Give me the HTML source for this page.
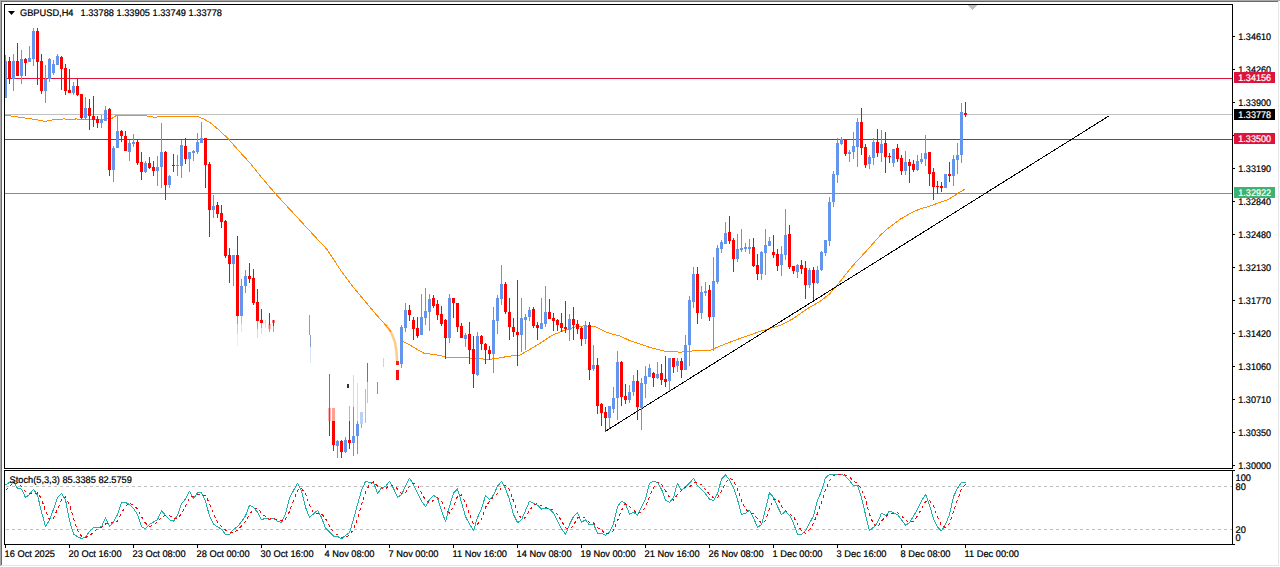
<!DOCTYPE html><html><head><meta charset="utf-8"><title>GBPUSD,H4</title>
<style>html,body{margin:0;padding:0;background:#fff;}body{width:1280px;height:567px;overflow:hidden;}svg{display:block;position:absolute;left:0;top:0;}text{font-family:"Liberation Sans",sans-serif;font-size:9.25px;fill:#000;stroke:#000;stroke-width:0.22px;text-rendering:geometricPrecision;}.w{fill:#fff;stroke:#fff;}</style></head><body>
<svg width="1280" height="567" viewBox="0 0 1280 567">
<rect x="0" y="0" width="1280" height="567" fill="#fff"/>
<g shape-rendering="crispEdges">
<rect x="0" y="0" width="1280" height="1" fill="#a9a9a9"/>
<rect x="0" y="1" width="1279" height="1" fill="#696969"/>
<rect x="0" y="0" width="1" height="566" fill="#a9a9a9"/>
<rect x="1" y="1" width="1" height="565" fill="#696969"/>
<rect x="1278" y="1" width="1" height="565" fill="#e6e6e6"/>
<rect x="1" y="565" width="1278" height="1" fill="#e6e6e6"/>
<rect x="1233" y="36" width="2" height="1" fill="#000"/>
<rect x="1233" y="69" width="2" height="1" fill="#000"/>
<rect x="1233" y="102" width="2" height="1" fill="#000"/>
<rect x="1233" y="135" width="2" height="1" fill="#000"/>
<rect x="1233" y="168" width="2" height="1" fill="#000"/>
<rect x="1233" y="201" width="2" height="1" fill="#000"/>
<rect x="1233" y="234" width="2" height="1" fill="#000"/>
<rect x="1233" y="267" width="2" height="1" fill="#000"/>
<rect x="1233" y="300" width="2" height="1" fill="#000"/>
<rect x="1233" y="333" width="2" height="1" fill="#000"/>
<rect x="1233" y="366" width="2" height="1" fill="#000"/>
<rect x="1233" y="399" width="2" height="1" fill="#000"/>
<rect x="1233" y="432" width="2" height="1" fill="#000"/>
<rect x="1233" y="465" width="2" height="1" fill="#000"/>
<rect x="5" y="545" width="1" height="3" fill="#000"/>
<rect x="69" y="545" width="1" height="3" fill="#000"/>
<rect x="133" y="545" width="1" height="3" fill="#000"/>
<rect x="197" y="545" width="1" height="3" fill="#000"/>
<rect x="261" y="545" width="1" height="3" fill="#000"/>
<rect x="325" y="545" width="1" height="3" fill="#000"/>
<rect x="389" y="545" width="1" height="3" fill="#000"/>
<rect x="453" y="545" width="1" height="3" fill="#000"/>
<rect x="517" y="545" width="1" height="3" fill="#000"/>
<rect x="581" y="545" width="1" height="3" fill="#000"/>
<rect x="645" y="545" width="1" height="3" fill="#000"/>
<rect x="709" y="545" width="1" height="3" fill="#000"/>
<rect x="773" y="545" width="1" height="3" fill="#000"/>
<rect x="837" y="545" width="1" height="3" fill="#000"/>
<rect x="901" y="545" width="1" height="3" fill="#000"/>
<rect x="965" y="545" width="1" height="3" fill="#000"/>
<rect x="1233" y="470" width="2" height="1" fill="#000"/>
<rect x="1233" y="544" width="2" height="1" fill="#000"/>
<rect x="5" y="114" width="1227" height="1" fill="#c0c0c0"/>
<rect x="5" y="78" width="1227" height="1" fill="#dc143c"/>
<rect x="5" y="139" width="1227" height="1" fill="#dc143c"/>
<rect x="5" y="193" width="1227" height="1" fill="#3cb371"/>
</g>
<line x1="6" y1="486.5" x2="1232" y2="486.5" stroke="#c0c0c0" stroke-width="1" stroke-dasharray="3 3" shape-rendering="crispEdges"/>
<line x1="6" y1="529.5" x2="1232" y2="529.5" stroke="#c0c0c0" stroke-width="1" stroke-dasharray="3 3" shape-rendering="crispEdges"/>
<polyline fill="none" stroke="#ff8c00" stroke-width="1" stroke-linejoin="round" shape-rendering="crispEdges" points="4,114.8 16,116.8 28,118.4 40,120.4 45,121.4 52,120 64,118.9 72,119.8 76,118.9 84,119.8 100,119.5 112,118.4 116,115.6 120,115 140,115 155,117.3 162,116 196,116 204,119 212,124 220,131 228,138.5 238.2,150.2 250.3,163.3 262.3,178.3 274.5,192.6 304.5,225.3 327.1,249.5 333,258.5 339.4,268.5 351.8,285.3 364.1,300.1 376.5,315 384,323.2 391,331.5"/>
<polyline fill="none" stroke="#ff8c00" stroke-width="1" stroke-linejoin="round" shape-rendering="crispEdges" points="403,341.3 412,346.3 424,353.3 436,354.7 448,357.4 470,358 488.5,359.4 496.5,358.4 508,356.4 520,355 528,350.4 540,343.4 552,335.3 564.3,330.3 576.4,326.7 584.4,325.9 594.5,326.3 604.5,331.3 612.5,334.3 620,336 630,340.7 640,344 650,347.5 664.4,351.1 680.5,352.2 692.5,351 711,350 720,346 740.3,338.3 760.4,331.3 770.4,328.3 780.5,325.3 792.5,319 808,308.3 820,301.5 830,293.5 840.2,281.4 852.2,266.3 864.3,253.3 880.4,235.2 886.4,229.6 900.5,219.1 912.5,212.1 920.5,208.7 928,206.7 948.2,199.5 965,189"/>
<polyline fill="none" stroke="#ff8c00" stroke-width="2.5" opacity="0.45" stroke-linecap="round" points="386,325 391,332 395,342 396.5,352 397,360"/>
<line x1="605.5" y1="431.2" x2="1109.3" y2="115.7" stroke="#000" stroke-width="1" shape-rendering="crispEdges"/>
<g shape-rendering="crispEdges">
<rect x="5" y="55" width="1" height="43" fill="#6495ed"/>
<rect x="4" y="61" width="3" height="37" fill="#6495ed"/>
<rect x="9" y="57" width="1" height="27" fill="#ff0000"/>
<rect x="8" y="61" width="3" height="18" fill="#ff0000"/>
<rect x="13" y="54" width="1" height="37" fill="#6495ed"/>
<rect x="12" y="61" width="3" height="18" fill="#6495ed"/>
<rect x="17" y="43" width="1" height="33" fill="#ff0000"/>
<rect x="16" y="61" width="3" height="15" fill="#ff0000"/>
<rect x="21" y="50" width="1" height="34" fill="#6495ed"/>
<rect x="20" y="59" width="3" height="17" fill="#6495ed"/>
<rect x="25" y="58" width="1" height="18" fill="#ff0000"/>
<rect x="24" y="59" width="3" height="4" fill="#ff0000"/>
<rect x="29" y="46" width="1" height="16" fill="#6495ed"/>
<rect x="28" y="58" width="3" height="4" fill="#6495ed"/>
<rect x="33" y="28" width="1" height="38" fill="#6495ed"/>
<rect x="32" y="31" width="3" height="28" fill="#6495ed"/>
<rect x="37" y="28" width="1" height="57" fill="#ff0000"/>
<rect x="36" y="31" width="3" height="31" fill="#ff0000"/>
<rect x="41" y="54" width="1" height="40" fill="#ff0000"/>
<rect x="40" y="61" width="3" height="30" fill="#ff0000"/>
<rect x="45" y="65" width="1" height="38" fill="#6495ed"/>
<rect x="44" y="79" width="3" height="12" fill="#6495ed"/>
<rect x="49" y="58" width="1" height="24" fill="#6495ed"/>
<rect x="48" y="59" width="3" height="20" fill="#6495ed"/>
<rect x="53" y="60" width="1" height="15" fill="#6495ed"/>
<rect x="52" y="64" width="3" height="9" fill="#6495ed"/>
<rect x="57" y="54" width="1" height="11" fill="#6495ed"/>
<rect x="56" y="56" width="3" height="9" fill="#6495ed"/>
<rect x="61" y="56" width="1" height="34" fill="#ff0000"/>
<rect x="60" y="57" width="3" height="12" fill="#ff0000"/>
<rect x="65" y="64" width="1" height="31" fill="#ff0000"/>
<rect x="64" y="68" width="3" height="23" fill="#ff0000"/>
<rect x="69" y="69" width="1" height="24" fill="#ff0000"/>
<rect x="68" y="90" width="3" height="3" fill="#ff0000"/>
<rect x="73" y="82" width="1" height="13" fill="#6495ed"/>
<rect x="72" y="86" width="3" height="7" fill="#6495ed"/>
<rect x="77" y="79" width="1" height="17" fill="#ff0000"/>
<rect x="76" y="86" width="3" height="9" fill="#ff0000"/>
<rect x="81" y="94" width="1" height="25" fill="#ff0000"/>
<rect x="80" y="94" width="3" height="24" fill="#ff0000"/>
<rect x="85" y="97" width="1" height="23" fill="#6495ed"/>
<rect x="84" y="108" width="3" height="10" fill="#6495ed"/>
<rect x="89" y="99" width="1" height="31" fill="#ff0000"/>
<rect x="88" y="108" width="3" height="8" fill="#ff0000"/>
<rect x="93" y="96" width="1" height="31" fill="#ff0000"/>
<rect x="92" y="116" width="3" height="4" fill="#ff0000"/>
<rect x="97" y="116" width="1" height="12" fill="#ff0000"/>
<rect x="96" y="119" width="3" height="4" fill="#ff0000"/>
<rect x="101" y="115" width="1" height="13" fill="#6495ed"/>
<rect x="100" y="120" width="3" height="3" fill="#6495ed"/>
<rect x="105" y="106" width="1" height="15" fill="#6495ed"/>
<rect x="104" y="110" width="3" height="11" fill="#6495ed"/>
<rect x="109" y="108" width="1" height="68" fill="#ff0000"/>
<rect x="108" y="109" width="3" height="61" fill="#ff0000"/>
<rect x="113" y="146" width="1" height="36" fill="#6495ed"/>
<rect x="112" y="148" width="3" height="22" fill="#6495ed"/>
<rect x="117" y="116" width="1" height="32" fill="#6495ed"/>
<rect x="116" y="131" width="3" height="17" fill="#6495ed"/>
<rect x="121" y="130" width="1" height="12" fill="#ff0000"/>
<rect x="120" y="131" width="3" height="5" fill="#ff0000"/>
<rect x="125" y="131" width="1" height="20" fill="#ff0000"/>
<rect x="124" y="136" width="3" height="15" fill="#ff0000"/>
<rect x="129" y="140" width="1" height="21" fill="#6495ed"/>
<rect x="128" y="143" width="3" height="9" fill="#6495ed"/>
<rect x="133" y="134" width="1" height="13" fill="#6495ed"/>
<rect x="132" y="142" width="3" height="2" fill="#6495ed"/>
<rect x="137" y="140" width="1" height="25" fill="#ff0000"/>
<rect x="136" y="142" width="3" height="21" fill="#ff0000"/>
<rect x="141" y="152" width="1" height="28" fill="#ff0000"/>
<rect x="140" y="162" width="3" height="10" fill="#ff0000"/>
<rect x="145" y="161" width="1" height="12" fill="#6495ed"/>
<rect x="144" y="163" width="3" height="9" fill="#6495ed"/>
<rect x="149" y="157" width="1" height="12" fill="#ff0000"/>
<rect x="148" y="163" width="3" height="5" fill="#ff0000"/>
<rect x="153" y="161" width="1" height="15" fill="#ff0000"/>
<rect x="152" y="167" width="3" height="4" fill="#ff0000"/>
<rect x="157" y="156" width="1" height="30" fill="#6495ed"/>
<rect x="156" y="167" width="3" height="4" fill="#6495ed"/>
<rect x="161" y="123" width="1" height="65" fill="#6495ed"/>
<rect x="160" y="152" width="3" height="15" fill="#6495ed"/>
<rect x="165" y="151" width="1" height="49" fill="#ff0000"/>
<rect x="164" y="152" width="3" height="33" fill="#ff0000"/>
<rect x="169" y="175" width="1" height="13" fill="#6495ed"/>
<rect x="168" y="176" width="3" height="9" fill="#6495ed"/>
<rect x="173" y="154" width="1" height="18" fill="#ff0000"/>
<rect x="172" y="165" width="3" height="1" fill="#ff0000"/>
<rect x="177" y="155" width="1" height="21" fill="#6495ed"/>
<rect x="176" y="165" width="3" height="1" fill="#6495ed"/>
<rect x="181" y="140" width="1" height="38" fill="#6495ed"/>
<rect x="180" y="145" width="3" height="21" fill="#6495ed"/>
<rect x="185" y="138" width="1" height="26" fill="#ff0000"/>
<rect x="184" y="146" width="3" height="13" fill="#ff0000"/>
<rect x="189" y="152" width="1" height="20" fill="#6495ed"/>
<rect x="188" y="152" width="3" height="7" fill="#6495ed"/>
<rect x="193" y="150" width="1" height="11" fill="#6495ed"/>
<rect x="192" y="151" width="3" height="2" fill="#6495ed"/>
<rect x="197" y="133" width="1" height="21" fill="#6495ed"/>
<rect x="196" y="142" width="3" height="10" fill="#6495ed"/>
<rect x="201" y="122" width="1" height="21" fill="#6495ed"/>
<rect x="200" y="138" width="3" height="5" fill="#6495ed"/>
<rect x="205" y="138" width="1" height="50" fill="#ff0000"/>
<rect x="204" y="138" width="3" height="27" fill="#ff0000"/>
<rect x="209" y="162" width="1" height="75" fill="#ff0000"/>
<rect x="208" y="164" width="3" height="46" fill="#ff0000"/>
<rect x="213" y="195" width="1" height="23" fill="#6495ed"/>
<rect x="212" y="206" width="3" height="4" fill="#6495ed"/>
<rect x="217" y="202" width="1" height="16" fill="#ff0000"/>
<rect x="216" y="205" width="3" height="9" fill="#ff0000"/>
<rect x="221" y="205" width="1" height="23" fill="#ff0000"/>
<rect x="220" y="213" width="3" height="9" fill="#ff0000"/>
<rect x="225" y="220" width="1" height="38" fill="#ff0000"/>
<rect x="224" y="221" width="3" height="35" fill="#ff0000"/>
<rect x="229" y="248" width="1" height="35" fill="#ff0000"/>
<rect x="228" y="255" width="3" height="9" fill="#ff0000"/>
<rect x="233" y="255" width="1" height="31" fill="#6495ed"/>
<rect x="232" y="255" width="3" height="9" fill="#6495ed"/>
<rect x="237" y="236" width="1" height="80" fill="#ff0000"/>
<rect x="236" y="255" width="3" height="61" fill="#ff0000"/>
<rect x="241" y="279" width="1" height="37" fill="#6495ed"/>
<rect x="240" y="286" width="3" height="30" fill="#6495ed"/>
<rect x="245" y="270" width="1" height="23" fill="#6495ed"/>
<rect x="244" y="276" width="3" height="10" fill="#6495ed"/>
<rect x="249" y="263" width="1" height="20" fill="#ff0000"/>
<rect x="248" y="276" width="3" height="3" fill="#ff0000"/>
<rect x="253" y="269" width="1" height="36" fill="#ff0000"/>
<rect x="252" y="278" width="3" height="25" fill="#ff0000"/>
<rect x="257" y="289" width="1" height="32" fill="#ff0000"/>
<rect x="256" y="302" width="3" height="19" fill="#ff0000"/>
<rect x="261" y="309" width="1" height="14" fill="#ff0000"/>
<rect x="260" y="320" width="3" height="3" fill="#ff0000"/>
<rect x="333" y="421" width="1" height="30" fill="#ff0000"/>
<rect x="332" y="421" width="3" height="24" fill="#ff0000"/>
<rect x="337" y="440" width="1" height="18" fill="#6495ed"/>
<rect x="336" y="441" width="3" height="5" fill="#6495ed"/>
<rect x="341" y="440" width="1" height="18" fill="#ff0000"/>
<rect x="340" y="441" width="3" height="11" fill="#ff0000"/>
<rect x="345" y="437" width="1" height="16" fill="#6495ed"/>
<rect x="344" y="440" width="3" height="12" fill="#6495ed"/>
<rect x="349" y="421" width="1" height="28" fill="#ff0000"/>
<rect x="348" y="440" width="3" height="3" fill="#ff0000"/>
<rect x="353" y="407" width="1" height="49" fill="#6495ed"/>
<rect x="352" y="436" width="3" height="7" fill="#6495ed"/>
<rect x="357" y="421" width="1" height="33" fill="#6495ed"/>
<rect x="356" y="424" width="3" height="12" fill="#6495ed"/>
<rect x="401" y="325" width="1" height="43" fill="#6495ed"/>
<rect x="400" y="327" width="3" height="37" fill="#6495ed"/>
<rect x="405" y="303" width="1" height="29" fill="#6495ed"/>
<rect x="404" y="310" width="3" height="18" fill="#6495ed"/>
<rect x="409" y="305" width="1" height="16" fill="#ff0000"/>
<rect x="408" y="310" width="3" height="5" fill="#ff0000"/>
<rect x="413" y="317" width="1" height="23" fill="#ff0000"/>
<rect x="412" y="320" width="3" height="9" fill="#ff0000"/>
<rect x="417" y="317" width="1" height="21" fill="#ff0000"/>
<rect x="416" y="328" width="3" height="8" fill="#ff0000"/>
<rect x="421" y="294" width="1" height="41" fill="#6495ed"/>
<rect x="420" y="317" width="3" height="18" fill="#6495ed"/>
<rect x="425" y="288" width="1" height="37" fill="#6495ed"/>
<rect x="424" y="311" width="3" height="7" fill="#6495ed"/>
<rect x="429" y="294" width="1" height="37" fill="#6495ed"/>
<rect x="428" y="299" width="3" height="13" fill="#6495ed"/>
<rect x="433" y="295" width="1" height="13" fill="#ff0000"/>
<rect x="432" y="298" width="3" height="8" fill="#ff0000"/>
<rect x="437" y="300" width="1" height="20" fill="#ff0000"/>
<rect x="436" y="304" width="3" height="11" fill="#ff0000"/>
<rect x="441" y="306" width="1" height="20" fill="#ff0000"/>
<rect x="440" y="314" width="3" height="10" fill="#ff0000"/>
<rect x="445" y="319" width="1" height="40" fill="#ff0000"/>
<rect x="444" y="320" width="3" height="18" fill="#ff0000"/>
<rect x="449" y="294" width="1" height="49" fill="#6495ed"/>
<rect x="448" y="298" width="3" height="40" fill="#6495ed"/>
<rect x="453" y="298" width="1" height="20" fill="#ff0000"/>
<rect x="452" y="298" width="3" height="5" fill="#ff0000"/>
<rect x="457" y="303" width="1" height="29" fill="#ff0000"/>
<rect x="456" y="303" width="3" height="24" fill="#ff0000"/>
<rect x="461" y="323" width="1" height="15" fill="#ff0000"/>
<rect x="460" y="326" width="3" height="12" fill="#ff0000"/>
<rect x="465" y="333" width="1" height="14" fill="#6495ed"/>
<rect x="464" y="335" width="3" height="4" fill="#6495ed"/>
<rect x="469" y="322" width="1" height="42" fill="#ff0000"/>
<rect x="468" y="334" width="3" height="16" fill="#ff0000"/>
<rect x="473" y="336" width="1" height="52" fill="#ff0000"/>
<rect x="472" y="349" width="3" height="25" fill="#ff0000"/>
<rect x="477" y="332" width="1" height="44" fill="#6495ed"/>
<rect x="476" y="336" width="3" height="39" fill="#6495ed"/>
<rect x="481" y="335" width="1" height="15" fill="#ff0000"/>
<rect x="480" y="336" width="3" height="8" fill="#ff0000"/>
<rect x="485" y="343" width="1" height="21" fill="#ff0000"/>
<rect x="484" y="344" width="3" height="6" fill="#ff0000"/>
<rect x="489" y="346" width="1" height="14" fill="#ff0000"/>
<rect x="488" y="350" width="3" height="4" fill="#ff0000"/>
<rect x="493" y="307" width="1" height="66" fill="#6495ed"/>
<rect x="492" y="320" width="3" height="34" fill="#6495ed"/>
<rect x="497" y="295" width="1" height="39" fill="#6495ed"/>
<rect x="496" y="298" width="3" height="23" fill="#6495ed"/>
<rect x="501" y="265" width="1" height="40" fill="#6495ed"/>
<rect x="500" y="284" width="3" height="15" fill="#6495ed"/>
<rect x="505" y="282" width="1" height="32" fill="#ff0000"/>
<rect x="504" y="284" width="3" height="28" fill="#ff0000"/>
<rect x="509" y="298" width="1" height="42" fill="#ff0000"/>
<rect x="508" y="312" width="3" height="15" fill="#ff0000"/>
<rect x="513" y="318" width="1" height="19" fill="#ff0000"/>
<rect x="512" y="327" width="3" height="5" fill="#ff0000"/>
<rect x="517" y="280" width="1" height="86" fill="#ff0000"/>
<rect x="516" y="332" width="3" height="3" fill="#ff0000"/>
<rect x="521" y="298" width="1" height="54" fill="#6495ed"/>
<rect x="520" y="318" width="3" height="17" fill="#6495ed"/>
<rect x="525" y="314" width="1" height="36" fill="#6495ed"/>
<rect x="524" y="317" width="3" height="3" fill="#6495ed"/>
<rect x="529" y="307" width="1" height="14" fill="#6495ed"/>
<rect x="528" y="310" width="3" height="7" fill="#6495ed"/>
<rect x="533" y="307" width="1" height="21" fill="#ff0000"/>
<rect x="532" y="309" width="3" height="17" fill="#ff0000"/>
<rect x="537" y="322" width="1" height="18" fill="#ff0000"/>
<rect x="536" y="325" width="3" height="3" fill="#ff0000"/>
<rect x="541" y="298" width="1" height="31" fill="#6495ed"/>
<rect x="540" y="323" width="3" height="6" fill="#6495ed"/>
<rect x="545" y="286" width="1" height="41" fill="#6495ed"/>
<rect x="544" y="312" width="3" height="12" fill="#6495ed"/>
<rect x="549" y="299" width="1" height="20" fill="#ff0000"/>
<rect x="548" y="312" width="3" height="7" fill="#ff0000"/>
<rect x="553" y="313" width="1" height="18" fill="#ff0000"/>
<rect x="552" y="318" width="3" height="3" fill="#ff0000"/>
<rect x="557" y="319" width="1" height="12" fill="#ff0000"/>
<rect x="556" y="320" width="3" height="5" fill="#ff0000"/>
<rect x="561" y="313" width="1" height="19" fill="#ff0000"/>
<rect x="560" y="323" width="3" height="5" fill="#ff0000"/>
<rect x="565" y="301" width="1" height="32" fill="#ff0000"/>
<rect x="564" y="327" width="3" height="2" fill="#ff0000"/>
<rect x="569" y="314" width="1" height="27" fill="#6495ed"/>
<rect x="568" y="319" width="3" height="11" fill="#6495ed"/>
<rect x="573" y="307" width="1" height="33" fill="#ff0000"/>
<rect x="572" y="319" width="3" height="6" fill="#ff0000"/>
<rect x="577" y="320" width="1" height="14" fill="#ff0000"/>
<rect x="576" y="324" width="3" height="5" fill="#ff0000"/>
<rect x="581" y="327" width="1" height="19" fill="#ff0000"/>
<rect x="580" y="328" width="3" height="11" fill="#ff0000"/>
<rect x="585" y="321" width="1" height="23" fill="#6495ed"/>
<rect x="584" y="326" width="3" height="13" fill="#6495ed"/>
<rect x="589" y="322" width="1" height="58" fill="#ff0000"/>
<rect x="588" y="325" width="3" height="45" fill="#ff0000"/>
<rect x="593" y="345" width="1" height="26" fill="#6495ed"/>
<rect x="592" y="365" width="3" height="4" fill="#6495ed"/>
<rect x="597" y="358" width="1" height="56" fill="#ff0000"/>
<rect x="596" y="365" width="3" height="41" fill="#ff0000"/>
<rect x="601" y="403" width="1" height="23" fill="#ff0000"/>
<rect x="600" y="404" width="3" height="9" fill="#ff0000"/>
<rect x="605" y="407" width="1" height="25" fill="#ff0000"/>
<rect x="604" y="412" width="3" height="6" fill="#ff0000"/>
<rect x="609" y="406" width="1" height="22" fill="#6495ed"/>
<rect x="608" y="406" width="3" height="12" fill="#6495ed"/>
<rect x="613" y="387" width="1" height="26" fill="#6495ed"/>
<rect x="612" y="398" width="3" height="11" fill="#6495ed"/>
<rect x="617" y="351" width="1" height="69" fill="#6495ed"/>
<rect x="616" y="362" width="3" height="36" fill="#6495ed"/>
<rect x="621" y="361" width="1" height="45" fill="#ff0000"/>
<rect x="620" y="362" width="3" height="35" fill="#ff0000"/>
<rect x="625" y="384" width="1" height="20" fill="#ff0000"/>
<rect x="624" y="396" width="3" height="4" fill="#ff0000"/>
<rect x="629" y="385" width="1" height="18" fill="#6495ed"/>
<rect x="628" y="392" width="3" height="8" fill="#6495ed"/>
<rect x="633" y="375" width="1" height="21" fill="#6495ed"/>
<rect x="632" y="381" width="3" height="11" fill="#6495ed"/>
<rect x="637" y="370" width="1" height="50" fill="#ff0000"/>
<rect x="636" y="381" width="3" height="26" fill="#ff0000"/>
<rect x="641" y="378" width="1" height="52" fill="#6495ed"/>
<rect x="640" y="383" width="3" height="25" fill="#6495ed"/>
<rect x="645" y="366" width="1" height="32" fill="#6495ed"/>
<rect x="644" y="376" width="3" height="8" fill="#6495ed"/>
<rect x="649" y="364" width="1" height="13" fill="#6495ed"/>
<rect x="648" y="368" width="3" height="9" fill="#6495ed"/>
<rect x="653" y="372" width="1" height="15" fill="#ff0000"/>
<rect x="652" y="373" width="3" height="5" fill="#ff0000"/>
<rect x="657" y="362" width="1" height="17" fill="#6495ed"/>
<rect x="656" y="374" width="3" height="4" fill="#6495ed"/>
<rect x="661" y="364" width="1" height="21" fill="#ff0000"/>
<rect x="660" y="373" width="3" height="7" fill="#ff0000"/>
<rect x="665" y="356" width="1" height="31" fill="#ff0000"/>
<rect x="664" y="379" width="3" height="3" fill="#ff0000"/>
<rect x="669" y="358" width="1" height="33" fill="#6495ed"/>
<rect x="668" y="358" width="3" height="23" fill="#6495ed"/>
<rect x="673" y="358" width="1" height="15" fill="#ff0000"/>
<rect x="672" y="358" width="3" height="9" fill="#ff0000"/>
<rect x="677" y="358" width="1" height="14" fill="#6495ed"/>
<rect x="676" y="361" width="3" height="5" fill="#6495ed"/>
<rect x="681" y="358" width="1" height="20" fill="#ff0000"/>
<rect x="680" y="361" width="3" height="9" fill="#ff0000"/>
<rect x="685" y="335" width="1" height="35" fill="#6495ed"/>
<rect x="684" y="345" width="3" height="25" fill="#6495ed"/>
<rect x="689" y="296" width="1" height="70" fill="#6495ed"/>
<rect x="688" y="300" width="3" height="45" fill="#6495ed"/>
<rect x="693" y="267" width="1" height="41" fill="#6495ed"/>
<rect x="692" y="274" width="3" height="28" fill="#6495ed"/>
<rect x="697" y="267" width="1" height="57" fill="#ff0000"/>
<rect x="696" y="274" width="3" height="39" fill="#ff0000"/>
<rect x="701" y="286" width="1" height="33" fill="#6495ed"/>
<rect x="700" y="292" width="3" height="21" fill="#6495ed"/>
<rect x="705" y="282" width="1" height="14" fill="#6495ed"/>
<rect x="704" y="291" width="3" height="2" fill="#6495ed"/>
<rect x="709" y="285" width="1" height="36" fill="#ff0000"/>
<rect x="708" y="290" width="3" height="27" fill="#ff0000"/>
<rect x="713" y="257" width="1" height="94" fill="#6495ed"/>
<rect x="712" y="281" width="3" height="36" fill="#6495ed"/>
<rect x="717" y="245" width="1" height="39" fill="#6495ed"/>
<rect x="716" y="248" width="3" height="34" fill="#6495ed"/>
<rect x="721" y="240" width="1" height="13" fill="#6495ed"/>
<rect x="720" y="242" width="3" height="7" fill="#6495ed"/>
<rect x="725" y="222" width="1" height="22" fill="#6495ed"/>
<rect x="724" y="233" width="3" height="11" fill="#6495ed"/>
<rect x="729" y="216" width="1" height="28" fill="#ff0000"/>
<rect x="728" y="232" width="3" height="9" fill="#ff0000"/>
<rect x="733" y="238" width="1" height="34" fill="#ff0000"/>
<rect x="732" y="240" width="3" height="19" fill="#ff0000"/>
<rect x="737" y="234" width="1" height="28" fill="#6495ed"/>
<rect x="736" y="249" width="3" height="10" fill="#6495ed"/>
<rect x="741" y="229" width="1" height="23" fill="#6495ed"/>
<rect x="740" y="248" width="3" height="2" fill="#6495ed"/>
<rect x="745" y="243" width="1" height="9" fill="#6495ed"/>
<rect x="744" y="247" width="3" height="2" fill="#6495ed"/>
<rect x="749" y="239" width="1" height="15" fill="#6495ed"/>
<rect x="748" y="247" width="3" height="2" fill="#6495ed"/>
<rect x="753" y="238" width="1" height="29" fill="#ff0000"/>
<rect x="752" y="247" width="3" height="19" fill="#ff0000"/>
<rect x="757" y="254" width="1" height="26" fill="#ff0000"/>
<rect x="756" y="265" width="3" height="9" fill="#ff0000"/>
<rect x="761" y="251" width="1" height="29" fill="#6495ed"/>
<rect x="760" y="252" width="3" height="22" fill="#6495ed"/>
<rect x="765" y="229" width="1" height="46" fill="#6495ed"/>
<rect x="764" y="245" width="3" height="8" fill="#6495ed"/>
<rect x="769" y="237" width="1" height="9" fill="#6495ed"/>
<rect x="768" y="241" width="3" height="5" fill="#6495ed"/>
<rect x="773" y="235" width="1" height="23" fill="#ff0000"/>
<rect x="772" y="252" width="3" height="3" fill="#ff0000"/>
<rect x="777" y="249" width="1" height="22" fill="#ff0000"/>
<rect x="776" y="254" width="3" height="12" fill="#ff0000"/>
<rect x="781" y="246" width="1" height="30" fill="#6495ed"/>
<rect x="780" y="254" width="3" height="11" fill="#6495ed"/>
<rect x="785" y="209" width="1" height="51" fill="#6495ed"/>
<rect x="784" y="235" width="3" height="20" fill="#6495ed"/>
<rect x="789" y="225" width="1" height="44" fill="#ff0000"/>
<rect x="788" y="234" width="3" height="33" fill="#ff0000"/>
<rect x="793" y="266" width="1" height="8" fill="#ff0000"/>
<rect x="792" y="266" width="3" height="5" fill="#ff0000"/>
<rect x="797" y="264" width="1" height="14" fill="#6495ed"/>
<rect x="796" y="265" width="3" height="7" fill="#6495ed"/>
<rect x="801" y="260" width="1" height="14" fill="#ff0000"/>
<rect x="800" y="265" width="3" height="4" fill="#ff0000"/>
<rect x="805" y="261" width="1" height="38" fill="#ff0000"/>
<rect x="804" y="268" width="3" height="17" fill="#ff0000"/>
<rect x="809" y="268" width="1" height="20" fill="#6495ed"/>
<rect x="808" y="270" width="3" height="15" fill="#6495ed"/>
<rect x="813" y="267" width="1" height="33" fill="#ff0000"/>
<rect x="812" y="270" width="3" height="13" fill="#ff0000"/>
<rect x="817" y="266" width="1" height="18" fill="#6495ed"/>
<rect x="816" y="270" width="3" height="13" fill="#6495ed"/>
<rect x="821" y="251" width="1" height="20" fill="#6495ed"/>
<rect x="820" y="252" width="3" height="18" fill="#6495ed"/>
<rect x="825" y="240" width="1" height="16" fill="#6495ed"/>
<rect x="824" y="240" width="3" height="13" fill="#6495ed"/>
<rect x="829" y="197" width="1" height="49" fill="#6495ed"/>
<rect x="828" y="202" width="3" height="39" fill="#6495ed"/>
<rect x="833" y="171" width="1" height="36" fill="#6495ed"/>
<rect x="832" y="174" width="3" height="28" fill="#6495ed"/>
<rect x="837" y="138" width="1" height="45" fill="#6495ed"/>
<rect x="836" y="143" width="3" height="32" fill="#6495ed"/>
<rect x="841" y="137" width="1" height="8" fill="#6495ed"/>
<rect x="840" y="139" width="3" height="5" fill="#6495ed"/>
<rect x="845" y="139" width="1" height="17" fill="#ff0000"/>
<rect x="844" y="139" width="3" height="15" fill="#ff0000"/>
<rect x="849" y="150" width="1" height="12" fill="#6495ed"/>
<rect x="848" y="152" width="3" height="2" fill="#6495ed"/>
<rect x="853" y="132" width="1" height="27" fill="#6495ed"/>
<rect x="852" y="146" width="3" height="6" fill="#6495ed"/>
<rect x="857" y="118" width="1" height="49" fill="#6495ed"/>
<rect x="856" y="122" width="3" height="25" fill="#6495ed"/>
<rect x="861" y="108" width="1" height="47" fill="#ff0000"/>
<rect x="860" y="122" width="3" height="26" fill="#ff0000"/>
<rect x="865" y="144" width="1" height="24" fill="#ff0000"/>
<rect x="864" y="147" width="3" height="18" fill="#ff0000"/>
<rect x="869" y="155" width="1" height="14" fill="#6495ed"/>
<rect x="868" y="157" width="3" height="7" fill="#6495ed"/>
<rect x="873" y="138" width="1" height="27" fill="#6495ed"/>
<rect x="872" y="142" width="3" height="16" fill="#6495ed"/>
<rect x="877" y="129" width="1" height="28" fill="#ff0000"/>
<rect x="876" y="142" width="3" height="11" fill="#ff0000"/>
<rect x="881" y="130" width="1" height="32" fill="#6495ed"/>
<rect x="880" y="144" width="3" height="9" fill="#6495ed"/>
<rect x="885" y="132" width="1" height="41" fill="#ff0000"/>
<rect x="884" y="143" width="3" height="14" fill="#ff0000"/>
<rect x="889" y="153" width="1" height="10" fill="#ff0000"/>
<rect x="888" y="156" width="3" height="1" fill="#ff0000"/>
<rect x="893" y="149" width="1" height="18" fill="#6495ed"/>
<rect x="892" y="149" width="3" height="14" fill="#6495ed"/>
<rect x="897" y="144" width="1" height="18" fill="#ff0000"/>
<rect x="896" y="148" width="3" height="11" fill="#ff0000"/>
<rect x="901" y="155" width="1" height="20" fill="#ff0000"/>
<rect x="900" y="158" width="3" height="13" fill="#ff0000"/>
<rect x="905" y="151" width="1" height="24" fill="#6495ed"/>
<rect x="904" y="162" width="3" height="9" fill="#6495ed"/>
<rect x="909" y="159" width="1" height="24" fill="#ff0000"/>
<rect x="908" y="162" width="3" height="4" fill="#ff0000"/>
<rect x="913" y="160" width="1" height="12" fill="#ff0000"/>
<rect x="912" y="164" width="3" height="6" fill="#ff0000"/>
<rect x="917" y="155" width="1" height="16" fill="#6495ed"/>
<rect x="916" y="161" width="3" height="9" fill="#6495ed"/>
<rect x="921" y="153" width="1" height="11" fill="#6495ed"/>
<rect x="920" y="159" width="3" height="3" fill="#6495ed"/>
<rect x="925" y="135" width="1" height="31" fill="#6495ed"/>
<rect x="924" y="153" width="3" height="6" fill="#6495ed"/>
<rect x="929" y="152" width="1" height="34" fill="#ff0000"/>
<rect x="928" y="152" width="3" height="22" fill="#ff0000"/>
<rect x="933" y="168" width="1" height="32" fill="#ff0000"/>
<rect x="932" y="172" width="3" height="15" fill="#ff0000"/>
<rect x="937" y="181" width="1" height="13" fill="#ff0000"/>
<rect x="936" y="186" width="3" height="1" fill="#ff0000"/>
<rect x="941" y="182" width="1" height="10" fill="#ff0000"/>
<rect x="940" y="186" width="3" height="2" fill="#ff0000"/>
<rect x="945" y="174" width="1" height="14" fill="#6495ed"/>
<rect x="944" y="174" width="3" height="14" fill="#6495ed"/>
<rect x="949" y="162" width="1" height="20" fill="#ff0000"/>
<rect x="948" y="174" width="3" height="2" fill="#ff0000"/>
<rect x="953" y="155" width="1" height="31" fill="#6495ed"/>
<rect x="952" y="159" width="3" height="17" fill="#6495ed"/>
<rect x="957" y="143" width="1" height="31" fill="#6495ed"/>
<rect x="956" y="155" width="3" height="5" fill="#6495ed"/>
<rect x="961" y="103" width="1" height="60" fill="#6495ed"/>
<rect x="960" y="112" width="3" height="43" fill="#6495ed"/>
<rect x="965" y="102" width="1" height="15" fill="#ff0000"/>
<rect x="964" y="113" width="3" height="2" fill="#ff0000"/>
<rect x="237" y="316" width="1" height="8" fill="#ff0000" opacity="0.55"/>
<rect x="237" y="324" width="1" height="10" fill="#ff0000" opacity="0.25"/>
<rect x="237" y="334" width="1" height="12" fill="#ffa040" opacity="0.22"/>
<rect x="241" y="316" width="1" height="8" fill="#6495ed" opacity="0.55"/>
<rect x="241" y="324" width="1" height="8" fill="#6495ed" opacity="0.25"/>
<rect x="257" y="321" width="1" height="8" fill="#ff0000" opacity="0.5"/>
<rect x="257" y="329" width="1" height="9" fill="#ff0000" opacity="0.2"/>
<rect x="261" y="323" width="1" height="5" fill="#ff0000" opacity="0.5"/>
<rect x="261" y="328" width="1" height="6" fill="#ff0000" opacity="0.2"/>
<rect x="265" y="320" width="1" height="8" fill="#6495ed" opacity="0.3"/>
<rect x="269" y="313" width="1" height="12" fill="#ff0000" opacity="1"/>
<rect x="269" y="325" width="1" height="7" fill="#ff0000" opacity="0.5"/>
<rect x="268" y="324" width="3" height="5" fill="#ff0000" opacity="0.25"/>
<rect x="273" y="320" width="1" height="6" fill="#ff0000" opacity="1"/>
<rect x="273" y="326" width="1" height="6" fill="#ff0000" opacity="0.5"/>
<rect x="272" y="320" width="3" height="3" fill="#ff0000" opacity="0.5"/>
<rect x="309" y="315" width="1" height="20" fill="#6495ed" opacity="0.9"/>
<rect x="310" y="335" width="1" height="12" fill="#4060a0" opacity="0.6"/>
<rect x="310" y="347" width="1" height="16" fill="#6495ed" opacity="0.25"/>
<rect x="329" y="374" width="1" height="47" fill="#c00020" opacity="0.7"/>
<rect x="329" y="421" width="1" height="15" fill="#ff0000" opacity="1"/>
<rect x="328" y="408" width="3" height="13" fill="#ff0000" opacity="0.3"/>
<rect x="332" y="408" width="3" height="13" fill="#ff4020" opacity="0.5"/>
<rect x="349" y="406" width="1" height="15" fill="#ff0000" opacity="0.4"/>
<rect x="353" y="375" width="1" height="32" fill="#6495ed" opacity="0.35"/>
<rect x="357" y="383" width="1" height="38" fill="#60c0ff" opacity="0.4"/>
<rect x="360" y="412" width="3" height="12" fill="#6495ed" opacity="0.45"/>
<rect x="361" y="424" width="1" height="4" fill="#6495ed" opacity="0.8"/>
<rect x="365" y="389" width="1" height="34" fill="#6495ed" opacity="0.6"/>
<rect x="367" y="363" width="1" height="19" fill="#b00030" opacity="0.7"/>
<rect x="367" y="382" width="1" height="21" fill="#c00020" opacity="0.3"/>
<rect x="377" y="382" width="1" height="12" fill="#a02040" opacity="0.6"/>
<rect x="383" y="358" width="1" height="9" fill="#8090c0" opacity="0.4"/>
<rect x="347" y="384" width="2" height="4" fill="#000" opacity="0.8"/>
<rect x="396" y="361" width="3" height="4" fill="#ff0000" opacity="0.9"/>
<rect x="396" y="370" width="3" height="10" fill="#ff0000" opacity="0.95"/>
</g>
<polyline fill="none" stroke="#20b2aa" stroke-width="1" stroke-linejoin="round" shape-rendering="crispEdges" points="5.5,484.8 9.5,482.4 13.5,481.7 17.5,488.4 21.5,489.1 25.5,497.4 29.5,494.5 33.5,489.4 37.5,495.1 41.5,511.9 45.5,526.6 49.5,519.9 53.5,509.2 57.5,497.8 61.5,493.4 65.5,499.8 69.5,520.6 73.5,534 77.5,536.7 81.5,538.4 85.5,537.4 89.5,531.3 93.5,527.3 97.5,527.3 101.5,526.9 105.5,517.5 109.5,526.4 113.5,522 117.5,514.6 121.5,502.5 125.5,502.5 129.5,504.5 133.5,508.5 137.5,514.6 141.5,526.6 145.5,528.7 149.5,524.2 153.5,522 157.5,519.7 161.5,510.8 165.5,515.3 169.5,519.8 173.5,521.3 177.5,515.3 181.5,503.9 185.5,498.8 189.5,491.1 193.5,498.5 197.5,492.9 201.5,492.9 205.5,501.2 209.5,515.9 213.5,524 217.5,526.9 221.5,529.1 225.5,534.4 229.5,534.4 233.5,529.1 237.5,526.9 241.5,521.6 245.5,515.9 249.5,505.2 253.5,507.2 257.5,512.2 261.5,519.7 265.5,518.3 269.5,519.3 273.5,518.3 277.5,521.3 281.5,522.6 285.5,513.9 289.5,497.8 293.5,490.5 297.5,483.1 301.5,491.1 305.5,507.2 309.5,517.5 313.5,513.9 317.5,510.3 321.5,517.5 325.5,528 329.5,532 333.5,536.2 337.5,536.4 341.5,538.7 345.5,535.4 349.5,532.7 353.5,519.3 357.5,504.5 361.5,490.5 365.5,481.3 369.5,482.4 373.5,482.4 377.5,493.5 381.5,487.8 385.5,486.4 389.5,481.3 393.5,488.4 397.5,497.4 401.5,494.5 405.5,486.4 409.5,478.1 413.5,484.8 417.5,493.1 421.5,501.2 425.5,506.5 429.5,499.8 433.5,495.4 437.5,497.8 441.5,510.6 445.5,521.7 449.5,506.5 453.5,493.1 457.5,488.8 461.5,502.5 465.5,516.6 469.5,524 473.5,530.7 477.5,517.5 481.5,509.2 485.5,495.4 489.5,499.6 493.5,495.1 497.5,486.2 501.5,481.3 505.5,488.4 509.5,499.8 513.5,514.6 517.5,522.6 521.5,519.9 525.5,510.6 529.5,501.2 533.5,503.2 537.5,505.2 541.5,509.2 545.5,508.1 549.5,509.2 553.5,513.2 557.5,520.6 561.5,528.7 565.5,534.4 569.5,524.6 573.5,516.6 577.5,512.6 581.5,522.4 585.5,519.7 589.5,525 593.5,524.2 597.5,533.1 601.5,533.4 605.5,535.4 609.5,532 613.5,523.7 617.5,506.5 621.5,501.2 625.5,503.6 629.5,514.3 633.5,512.2 637.5,515.3 641.5,507.2 645.5,499.2 649.5,483.1 653.5,481.3 657.5,482.4 661.5,489.2 665.5,500.1 669.5,502.5 673.5,497.4 677.5,483.1 681.5,490.5 685.5,487.1 689.5,483.1 693.5,478.4 697.5,485.8 701.5,489.8 705.5,493.8 709.5,499.2 713.5,500.5 717.5,493.8 721.5,479.1 725.5,475 729.5,479.7 733.5,487.8 737.5,499.6 741.5,514.6 745.5,513.2 749.5,510.3 753.5,517.9 757.5,527.6 761.5,524.6 765.5,509.2 769.5,492.5 773.5,497.4 777.5,506.5 781.5,514.6 785.5,511.2 789.5,515.3 793.5,523.3 797.5,534.4 801.5,534.7 805.5,530.7 809.5,523.3 813.5,515.9 817.5,500.5 821.5,491.1 825.5,477.7 829.5,474.4 833.5,474.4 837.5,474.4 841.5,474.4 845.5,476.4 849.5,480.4 853.5,485.8 857.5,485.1 861.5,497.4 865.5,514.6 869.5,530.7 873.5,527.3 877.5,522.6 881.5,513.2 885.5,515.3 889.5,511.2 893.5,512.6 897.5,514.6 901.5,519.9 905.5,525.3 909.5,522.6 913.5,515.9 917.5,509.2 921.5,501.2 925.5,494.2 929.5,505.2 933.5,518.6 937.5,527.3 941.5,530.7 945.5,524.6 949.5,514.6 953.5,496.5 957.5,488.4 961.5,482.4 965.5,482.4"/>
<polyline fill="none" stroke="#ff0000" stroke-width="1" stroke-dasharray="3 3" shape-rendering="crispEdges" points="5.5,490.4 9.5,486.4 13.5,482.967 17.5,484.167 21.5,486.4 25.5,491.633 29.5,493.667 33.5,493.767 37.5,493 41.5,498.8 45.5,511.2 49.5,519.467 53.5,518.567 57.5,508.967 61.5,500.133 65.5,497 69.5,504.6 73.5,518.133 77.5,530.433 81.5,536.367 85.5,537.5 89.5,535.7 93.5,532 97.5,528.633 101.5,527.167 105.5,523.9 109.5,523.6 113.5,521.967 117.5,521 121.5,513.033 125.5,506.533 129.5,503.167 133.5,505.167 137.5,509.2 141.5,516.567 145.5,523.3 149.5,526.5 153.5,524.967 157.5,521.967 161.5,517.5 165.5,515.267 169.5,515.3 173.5,518.8 177.5,518.8 181.5,513.5 185.5,506 189.5,497.933 193.5,496.133 197.5,494.167 201.5,494.767 205.5,495.667 209.5,503.333 213.5,513.7 217.5,522.267 221.5,526.667 225.5,530.133 229.5,532.633 233.5,532.633 237.5,530.133 241.5,525.867 245.5,521.467 249.5,514.233 253.5,509.433 257.5,508.2 261.5,513.033 265.5,516.733 269.5,519.1 273.5,518.633 277.5,519.633 281.5,520.733 285.5,519.267 289.5,511.433 293.5,500.733 297.5,490.467 301.5,488.233 305.5,493.8 309.5,505.267 313.5,512.867 317.5,513.9 321.5,513.9 325.5,518.6 329.5,525.833 333.5,532.067 337.5,534.867 341.5,537.1 345.5,536.833 349.5,535.6 353.5,529.133 357.5,518.833 361.5,504.767 365.5,492.1 369.5,484.733 373.5,482.033 377.5,486.1 381.5,487.9 385.5,489.233 389.5,485.167 393.5,485.367 397.5,489.033 401.5,493.433 405.5,492.767 409.5,486.333 413.5,483.1 417.5,485.333 421.5,493.033 425.5,500.267 429.5,502.5 433.5,500.567 437.5,497.667 441.5,501.267 445.5,510.033 449.5,512.933 453.5,507.1 457.5,496.133 461.5,494.8 465.5,502.633 469.5,514.367 473.5,523.767 477.5,524.067 481.5,519.133 485.5,507.367 489.5,501.4 493.5,496.7 497.5,493.633 501.5,487.533 505.5,485.3 509.5,489.833 513.5,500.933 517.5,512.333 521.5,519.033 525.5,517.7 529.5,510.567 533.5,505 537.5,503.2 541.5,505.867 545.5,507.5 549.5,508.833 553.5,510.167 557.5,514.333 561.5,520.833 565.5,527.9 569.5,529.233 573.5,525.2 577.5,517.933 581.5,517.2 585.5,518.233 589.5,522.367 593.5,522.967 597.5,527.433 601.5,530.233 605.5,533.967 609.5,533.6 613.5,530.367 617.5,520.733 621.5,510.467 625.5,503.767 629.5,506.367 633.5,510.033 637.5,513.933 641.5,511.567 645.5,507.233 649.5,496.5 653.5,487.867 657.5,482.267 661.5,484.3 665.5,490.567 669.5,497.267 673.5,500 677.5,494.333 681.5,490.333 685.5,486.9 689.5,486.9 693.5,482.867 697.5,482.433 701.5,484.667 705.5,489.8 709.5,494.267 713.5,497.833 717.5,497.833 721.5,491.133 725.5,482.633 729.5,477.933 733.5,480.833 737.5,489.033 741.5,500.667 745.5,509.133 749.5,512.7 753.5,513.8 757.5,518.6 761.5,523.367 765.5,520.467 769.5,508.767 773.5,499.7 777.5,498.8 781.5,506.167 785.5,510.767 789.5,513.7 793.5,516.6 797.5,524.333 801.5,530.8 805.5,533.267 809.5,529.567 813.5,523.3 817.5,513.233 821.5,502.5 825.5,489.767 829.5,481.067 833.5,475.5 837.5,474.4 841.5,474.4 845.5,475.067 849.5,477.067 853.5,480.867 857.5,483.767 861.5,489.433 865.5,499.033 869.5,514.233 873.5,524.2 877.5,526.867 881.5,521.033 885.5,517.033 889.5,513.233 893.5,513.033 897.5,512.8 901.5,515.7 905.5,519.933 909.5,522.6 913.5,521.267 917.5,515.9 921.5,508.767 925.5,501.533 929.5,500.2 933.5,506 937.5,517.033 941.5,525.533 945.5,527.533 949.5,523.3 953.5,511.9 957.5,499.833 961.5,489.1 965.5,484.4"/>
<g shape-rendering="crispEdges">
<rect x="4" y="4" width="1229" height="1" fill="#000"/>
<rect x="4" y="468" width="1229" height="1" fill="#000"/>
<rect x="4" y="4" width="1" height="465" fill="#000"/>
<rect x="1232" y="4" width="1" height="465" fill="#000"/>
<rect x="4" y="470" width="1229" height="1" fill="#000"/>
<rect x="4" y="544" width="1229" height="1" fill="#000"/>
<rect x="4" y="470" width="1" height="75" fill="#000"/>
<rect x="1232" y="470" width="1" height="75" fill="#000"/>
<rect x="1234" y="72" width="41" height="11" fill="#dc143c"/>
<rect x="1234" y="109" width="41" height="11" fill="#000"/>
<rect x="1234" y="133" width="41" height="11" fill="#dc143c"/>
<rect x="1234" y="187" width="41" height="11" fill="#3cb371"/>
</g>
<path d="M8 11 L15 11 L11.5 15 Z" fill="#000"/>
<text transform="translate(20,16) scale(1,1.04)">GBPUSD,H4</text>
<text transform="translate(80.5,16) scale(1,1.04)">1.33788 1.33905 1.33749 1.33778</text>
<text transform="translate(1238.3,39.5) scale(0.978,1.04)">1.34610</text>
<text transform="translate(1238.3,72.5) scale(0.978,1.04)">1.34260</text>
<text transform="translate(1238.3,105.5) scale(0.978,1.04)">1.33900</text>
<text transform="translate(1238.3,171.5) scale(0.978,1.04)">1.33190</text>
<text transform="translate(1238.3,204.5) scale(0.978,1.04)">1.32840</text>
<text transform="translate(1238.3,237.5) scale(0.978,1.04)">1.32480</text>
<text transform="translate(1238.3,270.5) scale(0.978,1.04)">1.32130</text>
<text transform="translate(1238.3,303.5) scale(0.978,1.04)">1.31770</text>
<text transform="translate(1238.3,336.5) scale(0.978,1.04)">1.31420</text>
<text transform="translate(1238.3,369.5) scale(0.978,1.04)">1.31060</text>
<text transform="translate(1238.3,402.5) scale(0.978,1.04)">1.30710</text>
<text transform="translate(1238.3,435.5) scale(0.978,1.04)">1.30350</text>
<text transform="translate(1238.3,468.5) scale(0.978,1.04)">1.30000</text>
<g shape-rendering="crispEdges">
<rect x="1234" y="72" width="41" height="11" fill="#dc143c"/>
<rect x="1234" y="133" width="41" height="11" fill="#dc143c"/>
<rect x="1234" y="187" width="41" height="11" fill="#3cb371"/>
</g>
<text transform="translate(1238.3,81) scale(0.978,1.04)" class="w">1.34156</text>
<text transform="translate(1238.3,118) scale(0.978,1.04)" class="w">1.33778</text>
<text transform="translate(1238.3,142) scale(0.978,1.04)" class="w">1.33500</text>
<text transform="translate(1238.3,196) scale(0.978,1.04)" class="w">1.32922</text>
<text transform="translate(1235.5,481) scale(1,1.04)">100</text>
<text transform="translate(1235.5,490) scale(1,1.04)">80</text>
<text transform="translate(1235.5,533) scale(1,1.04)">20</text>
<text transform="translate(1235.5,541) scale(1,1.04)">0</text>
<text transform="translate(9.5,483) scale(1,1.04)">Stoch(5,3,3) 85.3385 82.5759</text>
<text transform="translate(4.6,557) scale(1,1.04)">16 Oct 2025</text>
<text transform="translate(68.6,557) scale(1,1.04)">20 Oct 16:00</text>
<text transform="translate(132.6,557) scale(1,1.04)">23 Oct 08:00</text>
<text transform="translate(196.6,557) scale(1,1.04)">28 Oct 00:00</text>
<text transform="translate(260.6,557) scale(1,1.04)">30 Oct 16:00</text>
<text transform="translate(324.6,557) scale(1,1.04)">4 Nov 08:00</text>
<text transform="translate(388.6,557) scale(1,1.04)">7 Nov 00:00</text>
<text transform="translate(452.6,557) scale(1,1.04)">11 Nov 16:00</text>
<text transform="translate(516.6,557) scale(1,1.04)">14 Nov 08:00</text>
<text transform="translate(580.6,557) scale(1,1.04)">19 Nov 00:00</text>
<text transform="translate(644.6,557) scale(1,1.04)">21 Nov 16:00</text>
<text transform="translate(708.6,557) scale(1,1.04)">26 Nov 08:00</text>
<text transform="translate(772.6,557) scale(1,1.04)">1 Dec 00:00</text>
<text transform="translate(836.6,557) scale(1,1.04)">3 Dec 16:00</text>
<text transform="translate(900.6,557) scale(1,1.04)">8 Dec 08:00</text>
<text transform="translate(964.6,557) scale(1,1.04)">11 Dec 00:00</text>
<g shape-rendering="crispEdges" fill="#c0c0c0"><rect x="968" y="5" width="9" height="1"/><rect x="969" y="6" width="7" height="1"/><rect x="970" y="7" width="5" height="1"/><rect x="971" y="8" width="3" height="1"/><rect x="972" y="9" width="1" height="1"/></g>
</svg></body></html>
